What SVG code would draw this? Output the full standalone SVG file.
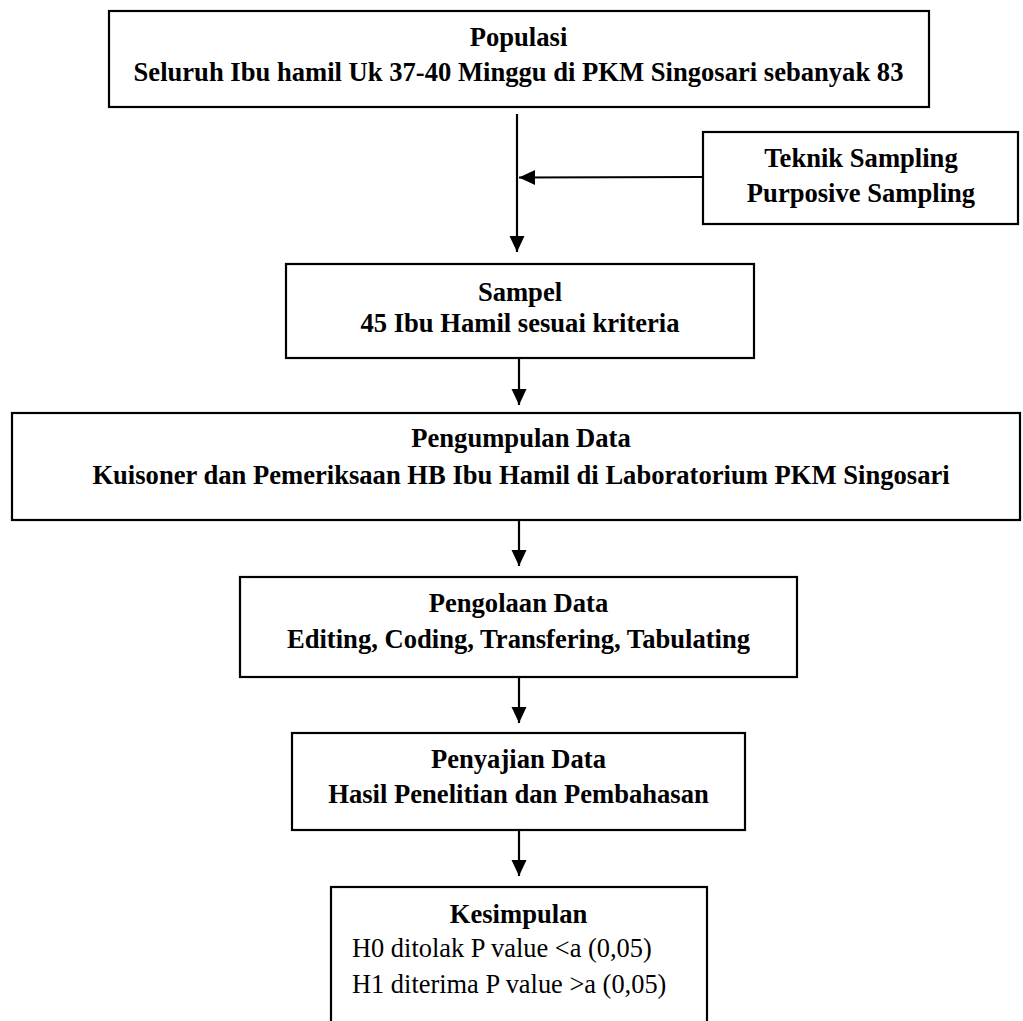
<svg xmlns="http://www.w3.org/2000/svg" width="1023" height="1021" viewBox="0 0 1023 1021">
<style>
.box{fill:#fff;stroke:#000;stroke-width:2.2}
.t{font-family:"Liberation Serif","Times New Roman",serif;font-size:26.6px;font-weight:bold;text-anchor:middle;fill:#000}
.r{font-family:"Liberation Serif","Times New Roman",serif;font-size:26.4px;fill:#000}
.c{stroke:#000;stroke-width:2.2;fill:none;marker-end:url(#ah)}
</style>
<defs>
<marker id="ah" markerUnits="userSpaceOnUse" markerWidth="16" markerHeight="16" viewBox="0 0 16 16" refX="16" refY="8" orient="auto">
<path d="M0,0.5 L16,8 L0,15.5 Z" fill="#000"/>
</marker>
</defs>
<rect width="1023" height="1021" fill="#fff"/>
<g id="connectors">
<line class="c" x1="517" y1="114" x2="517" y2="252"/>
<line class="c" x1="703" y1="177" x2="519" y2="177.5"/>
<line class="c" x1="519" y1="358" x2="519" y2="405"/>
<line class="c" x1="519" y1="520" x2="519" y2="566"/>
<line class="c" x1="519" y1="677" x2="519" y2="723"/>
<line class="c" x1="519" y1="830" x2="519" y2="876"/>
</g>
<g id="populasi">
<rect class="box" x="109" y="11" width="820" height="96"/>
<text class="t" x="518.5" y="46">Populasi</text>
<text class="t" x="518.5" y="81">Seluruh Ibu hamil Uk 37-40 Minggu di PKM Singosari sebanyak 83</text>
</g>
<g id="teknik">
<rect class="box" x="703" y="132" width="315" height="92"/>
<text class="t" x="861" y="167">Teknik Sampling</text>
<text class="t" x="861" y="202">Purposive Sampling</text>
</g>
<g id="sampel">
<rect class="box" x="286" y="264" width="468" height="94"/>
<text class="t" x="520" y="301">Sampel</text>
<text class="t" x="520" y="332">45 Ibu Hamil sesuai kriteria</text>
</g>
<g id="pengumpulan">
<rect class="box" x="12" y="413" width="1008" height="107"/>
<text class="t" x="521" y="447">Pengumpulan Data</text>
<text class="t" x="521" y="484">Kuisoner dan Pemeriksaan HB Ibu Hamil di Laboratorium PKM Singosari</text>
</g>
<g id="pengolaan">
<rect class="box" x="240" y="577" width="557" height="100"/>
<text class="t" x="518.5" y="612">Pengolaan Data</text>
<text class="t" x="518.5" y="648">Editing, Coding, Transfering, Tabulating</text>
</g>
<g id="penyajian">
<rect class="box" x="292" y="733" width="453" height="97"/>
<text class="t" x="518.5" y="768">Penyajian Data</text>
<text class="t" x="518.5" y="803">Hasil Penelitian dan Pembahasan</text>
</g>
<g id="kesimpulan">
<rect class="box" x="331" y="887" width="376" height="150"/>
<text class="t" x="518.5" y="923">Kesimpulan</text>
<text class="r" x="352" y="957">H0 ditolak P value &lt;a (0,05)</text>
<text class="r" x="352" y="993">H1 diterima P value &gt;a (0,05)</text>
</g>
</svg>
